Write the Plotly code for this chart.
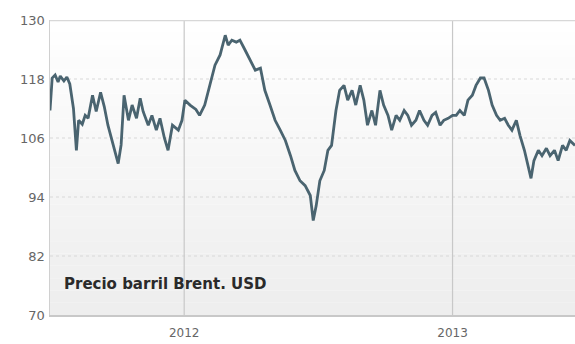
import plotly.graph_objects as go

# Brent crude, USD per barrel
dates = [
    "2011-07-02", "2011-07-05", "2011-07-09", "2011-07-13", "2011-07-16", "2011-07-21",
    "2011-07-25", "2011-07-29", "2011-08-03", "2011-08-07", "2011-08-10", "2011-08-15",
    "2011-08-19", "2011-08-23", "2011-08-29", "2011-09-03", "2011-09-09", "2011-09-14",
    "2011-09-19", "2011-09-26", "2011-10-03", "2011-10-07", "2011-10-11", "2011-10-17",
    "2011-10-22", "2011-10-28", "2011-11-02", "2011-11-06", "2011-11-13", "2011-11-18",
    "2011-11-24", "2011-11-29", "2011-12-05", "2011-12-10", "2011-12-16", "2011-12-24",
    "2011-12-29", "2012-01-02", "2012-01-09", "2012-01-17", "2012-01-22", "2012-01-29",
    "2012-02-05", "2012-02-12", "2012-02-19", "2012-02-26", "2012-03-01", "2012-03-06",
    "2012-03-12", "2012-03-17", "2012-03-24", "2012-03-31", "2012-04-07", "2012-04-14",
    "2012-04-20", "2012-04-27", "2012-05-04", "2012-05-11", "2012-05-18", "2012-05-25",
    "2012-05-31", "2012-06-07", "2012-06-14", "2012-06-21", "2012-06-25", "2012-06-29",
    "2012-07-04", "2012-07-10", "2012-07-15", "2012-07-20", "2012-07-26", "2012-07-31",
    "2012-08-06", "2012-08-11", "2012-08-17", "2012-08-22", "2012-08-28", "2012-09-02",
    "2012-09-07", "2012-09-13", "2012-09-18", "2012-09-24", "2012-09-29", "2012-10-05",
    "2012-10-10", "2012-10-16", "2012-10-21", "2012-10-27", "2012-11-01", "2012-11-06",
    "2012-11-12", "2012-11-17", "2012-11-23", "2012-11-28", "2012-12-04", "2012-12-09",
    "2012-12-15", "2012-12-20", "2012-12-26", "2013-01-01", "2013-01-06", "2013-01-11",
    "2013-01-17", "2013-01-22", "2013-01-28", "2013-02-02", "2013-02-08", "2013-02-13",
    "2013-02-19", "2013-02-24", "2013-03-02", "2013-03-07", "2013-03-13", "2013-03-18",
    "2013-03-23", "2013-03-29", "2013-04-03", "2013-04-09", "2013-04-14", "2013-04-18",
    "2013-04-22", "2013-04-28", "2013-05-03", "2013-05-09", "2013-05-14", "2013-05-20",
    "2013-05-25", "2013-05-31", "2013-06-05", "2013-06-10", "2013-06-17",
]
prices = [
    111.6, 118.2, 118.8, 117.4, 118.6, 117.6,
    118.4, 117.0, 112.0, 103.5, 109.6, 108.8,
    110.6, 110.0, 114.7, 111.4, 115.3, 112.4,
    108.6, 104.5, 100.8, 104.6, 114.7, 109.6,
    112.7, 110.0, 114.1, 111.4, 108.6, 110.6,
    107.6, 110.0, 106.0, 103.5, 108.6, 107.6,
    109.6, 113.7, 112.7, 111.8, 110.6, 112.7,
    116.7, 120.8, 122.9, 126.9, 124.9, 125.9,
    125.5, 125.9, 123.9, 121.8, 119.8, 120.2,
    115.7, 112.7, 109.6, 107.6, 105.5, 102.4,
    99.4, 97.3, 96.3, 94.3, 89.2, 92.2,
    97.3, 99.4, 103.5, 104.5, 111.6, 115.7,
    116.7, 113.7, 115.7, 112.7, 116.7, 113.7,
    108.6, 111.6, 108.6, 115.7, 112.7, 110.6,
    107.6, 110.6, 109.6, 111.6, 110.6, 108.6,
    109.6, 111.6, 109.6, 108.6, 110.6, 111.2,
    108.6, 109.6, 110.0, 110.6, 110.6, 111.6,
    110.6, 113.7, 114.7, 116.7, 118.2, 118.2,
    115.7, 112.7, 110.6, 109.6, 110.0, 108.6,
    107.6, 109.6, 106.5, 103.5, 100.4, 97.8,
    101.4, 103.5, 102.4, 103.9, 102.4, 103.5,
    101.4, 104.5, 103.5, 105.5, 104.5,
]
y_ticks = [70, 82, 94, 106, 118, 130]
x_ticks = ["2012-01-01", "2013-01-01"]

fig = go.Figure()

# soft vertical gradient behind the plot area
bands = 24
for i in range(bands):
    shade = int(255 - 17 * i / (bands - 1))
    fig.add_shape(
        type="rect", xref="x domain", yref="y domain",
        x0=0, x1=1, y0=1 - (i + 1) / bands, y1=1 - i / bands,
        fillcolor=f"rgb({shade},{shade},{shade})", line_width=0, layer="below",
    )

fig.add_trace(go.Scatter(
    x=dates, y=prices, mode="lines",
    line=dict(color="#4a6470", width=2.8),
    hoverinfo="skip",
))

for t in y_ticks[1:-1]:
    fig.add_hline(y=t, line=dict(color="#d8d8d8", width=1, dash="dot"), layer="below")
for t in x_ticks:
    fig.add_vline(x=t, line=dict(color="#c8c8c8", width=1.2), layer="below")

fig.add_annotation(
    text="Precio barril Brent. USD", xref="paper", yref="paper",
    x=0.022, y=0.105, xanchor="left", yanchor="middle", showarrow=False,
    font=dict(family="DejaVu Sans", size=15, color="#2a2a2a", weight="bold"),
)

fig.update_layout(
    width=575, height=344,
    margin=dict(l=50, r=0, t=20, b=29),
    paper_bgcolor="white", plot_bgcolor="white",
    showlegend=False,
    font=dict(family="DejaVu Sans", size=12, color="#666666"),
)
fig.update_xaxes(
    type="date", range=["2011-07-02", "2013-06-17"],
    tickvals=x_ticks, tickformat="%Y", showgrid=False,
    showline=True, linecolor="#c8c8c8", linewidth=1.5,
    ticks="", zeroline=False, automargin=False, ticklabelstandoff=6,
)
fig.update_yaxes(
    range=[70, 130], tickvals=y_ticks, showgrid=False,
    showline=True, linecolor="#d0d0d0", linewidth=1.5, mirror=False,
    ticks="", zeroline=False, automargin=False, ticklabelstandoff=1,
    tickfont=dict(size=13),
)
fig.add_hline(y=130, line=dict(color="#d8d8d8", width=2.5))

fig.write_html(
    "out.html",
    config={"displayModeBar": False, "staticPlot": True},
    post_script="document.body.style.margin='0';",
)
